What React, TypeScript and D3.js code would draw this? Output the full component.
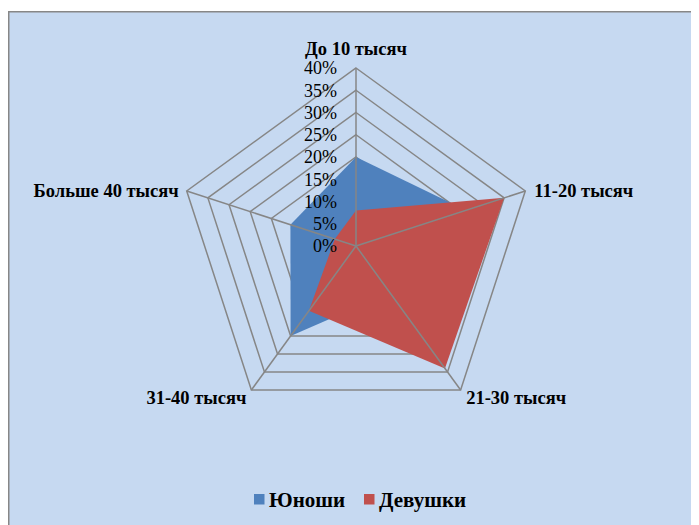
import React from "react";
import * as d3 from "d3";

const categories = ["До 10 тысяч", "11-20 тысяч", "21-30 тысяч", "31-40 тысяч", "Больше 40 тысяч"];
const seriesNames = ["Юноши", "Девушки"];
const boys = [20, 26, 13, 25, 15.5];
const girls = [8, 35, 34, 18, 5];
const ticks = [0, 5, 10, 15, 20, 25, 30, 35, 40];
const colors = ["#4F81BD", "#C0504D"];

export default function App() {
  const W = 691, H = 517;
  const cx = 348, cy = 238, R = 178;
  const r = d3.scaleLinear().domain([0, 40]).range([0, R]);
  const angle = (i: number) => (i * 2 * Math.PI) / categories.length;
  const pt = (i: number, v: number): [number, number] => [
    cx + r(v) * Math.sin(angle(i)),
    cy - r(v) * Math.cos(angle(i)),
  ];
  const radial = d3
    .lineRadial<number>()
    .angle((_, i) => angle(i))
    .radius((d) => r(d))
    .curve(d3.curveLinearClosed);

  const series = [boys, girls];
  const font = "Times New Roman, serif";

  const labelPos = [
    { dx: 0, dy: -19.5, anchor: "middle" },
    { dx: 9, dy: 0, anchor: "start" },
    { dx: 5.5, dy: 7.5, anchor: "start" },
    { dx: -5, dy: 7.5, anchor: "end" },
    { dx: -8, dy: -0.5, anchor: "end" },
  ];

  return (
    <svg width={W} height={H} style={{ display: "block", overflow: "hidden" }} fontFamily={font}>
      <rect x={0.75} y={3.75} width={W + 20} height={H + 20} fill="#C6D9F1" stroke="#878787" strokeWidth={1.5} />
      {ticks.slice(1).map((t) => (
        <polygon
          key={t}
          points={categories.map((_, i) => pt(i, t).join(",")).join(" ")}
          fill="none"
          stroke="#868686"
          strokeWidth={1.5}
        />
      ))}
      <g transform={`translate(${cx},${cy})`}>
        {series.map((s, k) => (
          <path key={k} d={radial(s) || ""} fill={colors[k]} stroke="none" />
        ))}
      </g>
      {categories.map((_, i) => {
        const [x, y] = pt(i, 40);
        return <line key={i} x1={cx} y1={cy} x2={x} y2={y} stroke="#868686" strokeWidth={1.5} />;
      })}
      {ticks.map((t) => (
        <text
          key={t}
          x={cx - 19}
          y={cy - r(t)}
          dy="0.35em"
          textAnchor="end"
          fontFamily={font}
          fontSize={18}
          fill="#000"
        >
          {t}%
        </text>
      ))}
      {categories.map((c, i) => {
        const [x, y] = pt(i, 40);
        const p = labelPos[i];
        return (
          <text
            key={c}
            x={x + p.dx}
            y={y + p.dy}
            dy="0.35em"
            textAnchor={p.anchor}
            fontFamily={font}
            fontSize={18.5}
            fontWeight="bold"
            fill="#000"
          >
            {c}
          </text>
        );
      })}
      <g>
        {seriesNames.map((n, k) => {
          const x0 = k === 0 ? 246 : 356;
          return (
            <g key={n}>
              <rect x={x0} y={486} width={10.5} height={10.5} fill={colors[k]} />
              <text x={x0 + 15} y={498.5} fontFamily={font} fontSize={21} fontWeight="bold" fill="#000">
                {n}
              </text>
            </g>
          );
        })}
      </g>
    </svg>
  );
}
